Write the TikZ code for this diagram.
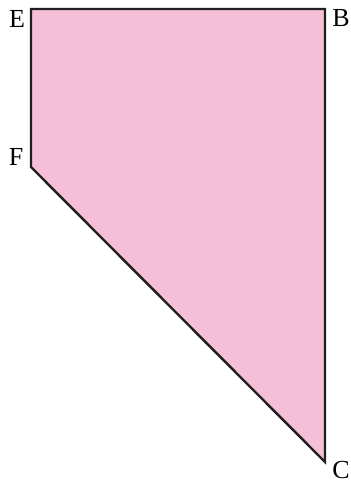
\documentclass[tikz,border=0pt]{standalone}
\usepackage{fontspec}
\setmainfont{Liberation Serif}
\definecolor{shade}{RGB}{246,191,216}
\begin{document}
\begin{tikzpicture}[x=1pt,y=-1pt,line join=miter,
  lbl/.style={font=\fontsize{26}{30}\selectfont,inner sep=0pt}]
\useasboundingbox (0,0) rectangle (351,485);
% corners of the figure
\coordinate (E) at (31,9);
\coordinate (B) at (325,9);
\coordinate (C) at (325,462);
\coordinate (F) at (31,167);
\filldraw[fill=shade,draw=black!88,line width=2.4pt] (E) -- (B) -- (C) -- (F) -- cycle;
\node[lbl] (lE) at (17,19) {E};
\node[lbl] (lB) at (341,18) {B};
\node[lbl] (lF) at (16,157) {F};
\node[lbl] (lC) at (341,470) {C};
\end{tikzpicture}
\end{document}
